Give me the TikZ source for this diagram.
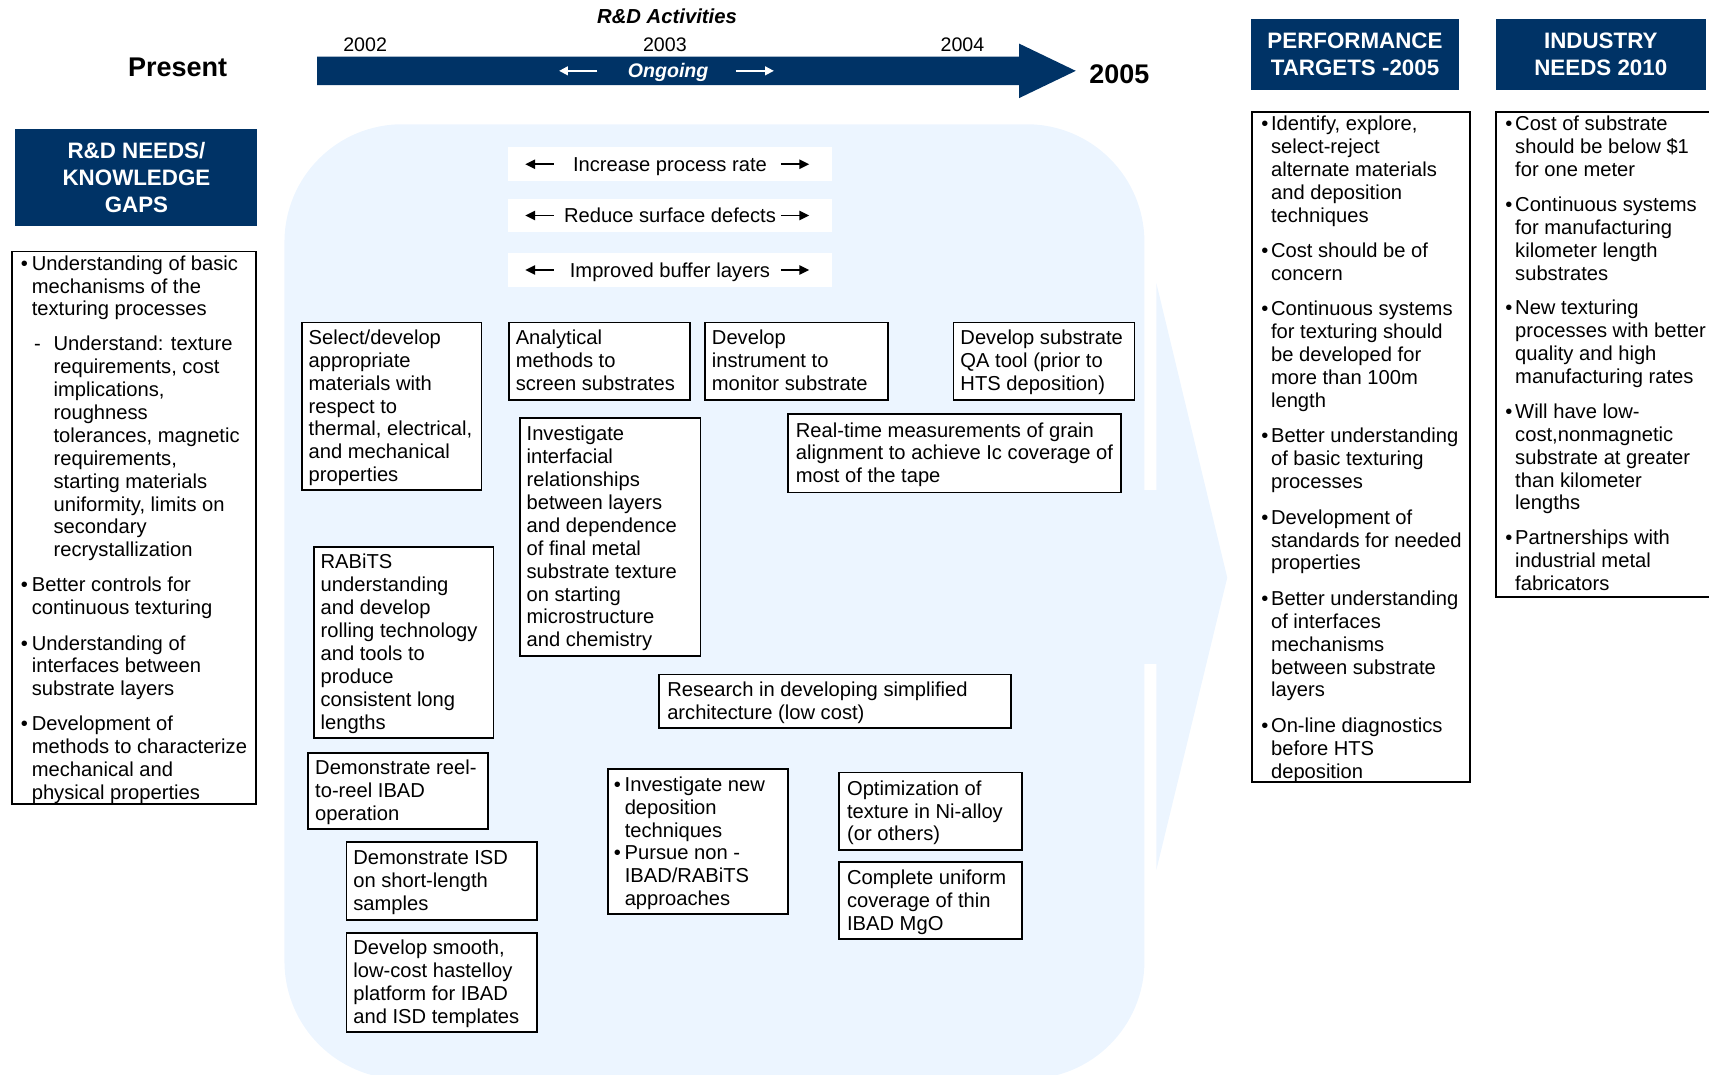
\documentclass[tikz,border=0pt]{standalone}
\usepackage{fontspec}
\setmainfont{Liberation Sans}
\usetikzlibrary{arrows.meta}
\definecolor{navy}{RGB}{0,51,102}
\definecolor{paleblue}{RGB}{236,245,255}
\newcommand\bul[1][10pt]{\makebox[#1][l]{•}}
\newcommand\ind[1][10pt]{\hspace*{#1}}
\tikzset{
  hdr/.style={fill=navy, text=white, font=\fontsize{20.5pt}{24.5pt}\selectfont\bfseries, align=center, inner sep=0pt, anchor=north west},
  frame/.style={draw=black, line width=1.6pt, fill=white, inner sep=0pt, anchor=north west},
  body/.style={font=\fontsize{18.5pt}{21pt}\selectfont, align=left, inner sep=0pt, text=black},
  bandbox/.style={fill=white, inner sep=0pt, anchor=north west, minimum width=297pt, minimum height=31pt,
     font=\fontsize{18.5pt}{21pt}\selectfont, text height=13.25pt, text depth=0pt},
  harrow/.style={line width=1.4pt, -{Triangle[length=9pt,width=8.5pt]}},
  warrow/.style={white, line width=1.6pt, -{Triangle[length=8pt,width=8pt]}},
}
\begin{document}
\begin{tikzpicture}[x=1pt,y=-1pt]
\useasboundingbox (0,0) rectangle (1568,986.3);

% ---------- light blue background shape ----------
\fill[paleblue, rounded corners=108pt] (261,114) rectangle (1050,990);
\fill[paleblue] (1049,450) rectangle (1062,609);
\fill[paleblue] (1061,260) -- (1126,530) -- (1061,798) -- cycle;

% ---------- timeline ----------
\fill[navy] (291,52) -- (935,52) -- (935,40) -- (987,65) -- (935,90) -- (935,78) -- (291,78) -- cycle;
\node[font=\fontsize{18.6pt}{21pt}\selectfont\bfseries\itshape, inner sep=0pt] (rda) at (612,15) {R\&D Activities};
\node[font=\fontsize{18pt}{21pt}\selectfont, inner sep=0pt] (y2002) at (335,41) {2002};
\node[font=\fontsize{18pt}{21pt}\selectfont, inner sep=0pt] (y2003) at (610,41) {2003};
\node[font=\fontsize{18pt}{21pt}\selectfont, inner sep=0pt] (y2004) at (883,41) {2004};
\node[font=\fontsize{24.8pt}{28pt}\selectfont\bfseries, inner sep=0pt] (present) at (163,62) {Present};
\node[font=\fontsize{24.7pt}{28pt}\selectfont\bfseries, inner sep=0pt] (y2005) at (1027,68) {2005};
\node[font=\fontsize{18pt}{21pt}\selectfont\bfseries\itshape, text=white, inner sep=0pt, text height=13pt, text depth=0pt] (ongoing) at (613,65) {Ongoing};
\coordinate (og) at (613,65);
\draw[warrow] ([xshift=-65pt]og) -- ([xshift=-100pt]og);
\draw[warrow] ([xshift=62pt]og) -- ([xshift=97pt]og);

% ---------- headers ----------
\node[hdr, minimum width=222pt, minimum height=89pt] (gaps) at (14,118) {R\&D NEEDS/\\KNOWLEDGE\\GAPS};
\node[hdr, minimum width=190pt, minimum height=65pt] (perf) at (1148,17) {PERFORMANCE\\TARGETS -2005};
\node[hdr, minimum width=193pt, minimum height=65pt] (ind) at (1372,17) {INDUSTRY\\NEEDS 2010};

% ---------- left column ----------
\node[frame, minimum width=224pt, minimum height=507pt] (lbox) at (10,230) {};
\node[body, anchor=north west] (ltext) at (19,233) {\strut\bul Understanding of basic\\
\ind mechanisms of the\\
\ind texturing processes\\[11pt]
\hspace*{12pt}\makebox[18pt][l]{-}Understand: texture\\
\ind[30pt]requirements, cost\\
\ind[30pt]implications,\\
\ind[30pt]roughness\\
\ind[30pt]tolerances, magnetic\\
\ind[30pt]requirements,\\
\ind[30pt]starting materials\\
\ind[30pt]uniformity, limits on\\
\ind[30pt]secondary\\
\ind[30pt]recrystallization\\[11pt]
\bul Better controls for\\
\ind continuous texturing\\[11.5pt]
\bul Understanding of\\
\ind interfaces between\\
\ind substrate layers\\[11pt]
\bul Development of\\
\ind methods to characterize\\
\ind mechanical and\\
\ind physical properties};

% ---------- performance targets ----------
\node[frame, minimum width=200pt, minimum height=615pt] (pbox) at (1148,102) {};
\node[body, anchor=north west] (ptext) at (1157,105) {\strut\bul[9pt]Identify, explore,\\
\ind[9pt]select-reject\\
\ind[9pt]alternate materials\\
\ind[9pt]and deposition\\
\ind[9pt]techniques\\[11.5pt]
\bul[9pt]Cost should be of\\
\ind[9pt]concern\\[11.5pt]
\bul[9pt]Continuous systems\\
\ind[9pt]for texturing should\\
\ind[9pt]be developed for\\
\ind[9pt]more than 100m\\
\ind[9pt]length\\[11.5pt]
\bul[9pt]Better understanding\\
\ind[9pt]of basic texturing\\
\ind[9pt]processes\\[11.5pt]
\bul[9pt]Development of\\
\ind[9pt]standards for needed\\
\ind[9pt]properties\\[11.5pt]
\bul[9pt]Better understanding\\
\ind[9pt]of interfaces\\
\ind[9pt]mechanisms\\
\ind[9pt]between substrate\\
\ind[9pt]layers\\[11.5pt]
\bul[9pt]On-line diagnostics\\
\ind[9pt]before HTS\\
\ind[9pt]deposition};

% ---------- industry needs ----------
\node[frame, minimum width=215pt, minimum height=445pt] (ibox) at (1372,102) {};
\node[body, anchor=north west] (itext) at (1381,105) {\strut\bul[9pt]Cost of substrate\\
\ind[9pt]should be below \$1\\
\ind[9pt]for one meter\\[11pt]
\bul[9pt]Continuous systems\\
\ind[9pt]for manufacturing\\
\ind[9pt]kilometer length\\
\ind[9pt]substrates\\[11pt]
\bul[9pt]New texturing\\
\ind[9pt]processes with better\\
\ind[9pt]quality and high\\
\ind[9pt]manufacturing rates\\[11pt]
\bul[9pt]Will have low-\\
\ind[9pt]cost,nonmagnetic\\
\ind[9pt]substrate at greater\\
\ind[9pt]than kilometer\\
\ind[9pt]lengths\\[11pt]
\bul[9pt]Partnerships with\\
\ind[9pt]industrial metal\\
\ind[9pt]fabricators};

% ---------- bands ----------
\node[bandbox] (band1) at (466,135) {Increase process rate};
\node[bandbox] (band2) at (466,182) {Reduce surface defects};
\node[bandbox] (band3) at (466,232) {Improved buffer layers};
\foreach \b in {band1,band2,band3}{
  \draw[harrow] ([xshift=42pt]\b.west) -- ([xshift=16pt]\b.west);
  \draw[harrow] ([xshift=-47pt]\b.east) -- ([xshift=-21pt]\b.east);
}

% ---------- central boxes ----------
\node[frame, minimum width=165pt, minimum height=154pt] (b1) at (276,295) {};
\node[body, anchor=west] (t1) at ([xshift=7pt,yshift=-2pt]b1.west) {\strut Select/develop\\appropriate\\materials with\\respect to\\thermal, electrical,\\and mechanical\\properties\strut};

\node[frame, minimum width=166pt, minimum height=71pt] (b2) at (466,295) {};
\node[body, anchor=west] (t2) at ([xshift=7pt,yshift=-2pt]b2.west) {\strut Analytical\\methods to\\screen substrates\strut};

\node[frame, minimum width=168pt, minimum height=71pt] (b3) at (646,295) {};
\node[body, anchor=west] (t3) at ([xshift=7pt,yshift=-2pt]b3.west) {\strut Develop\\instrument to\\monitor substrate\strut};

\node[frame, minimum width=166pt, minimum height=71pt] (b4) at (874,295) {};
\node[body, anchor=west] (t4) at ([xshift=7pt,yshift=-2pt]b4.west) {\strut Develop substrate\\QA tool (prior to\\HTS deposition)\strut};

\node[frame, minimum width=166pt, minimum height=218pt] (b5) at (476,383) {};
\node[body, anchor=west] (t5) at ([xshift=7pt,yshift=-2pt]b5.west) {\strut Investigate\\interfacial\\relationships\\between layers\\and dependence\\of final metal\\substrate texture\\on starting\\microstructure\\and chemistry\strut};

\node[frame, minimum width=306pt, minimum height=72pt] (b6) at (722,379) {};
\node[body, anchor=west] (t6) at ([xshift=8pt,yshift=-2pt]b6.west) {\strut Real-time measurements of grain\\alignment to achieve Ic coverage of\\most of the tape\strut};

\node[frame, minimum width=165pt, minimum height=175pt] (b7) at (287,501) {};
\node[body, anchor=west] (t7) at ([xshift=7pt,yshift=-2pt]b7.west) {\strut RABiTS\\understanding\\and develop\\rolling technology\\and tools to\\produce\\consistent long\\lengths\strut};

\node[frame, minimum width=323pt, minimum height=49pt] (b8) at (604,618) {};
\node[body, anchor=west] (t8) at ([xshift=8pt,yshift=-2pt]b8.west) {\strut Research in developing simplified\\architecture (low cost)\strut};

\node[frame, minimum width=165pt, minimum height=70pt] (b9) at (282,690) {};
\node[body, anchor=west] (t9) at ([xshift=7pt,yshift=-2pt]b9.west) {\strut Demonstrate reel-\\to-reel IBAD\\operation\strut};

\node[frame, minimum width=165pt, minimum height=133pt] (b10) at (557,705) {};
\node[body, anchor=west] (t10) at ([xshift=6pt,yshift=-2pt]b10.west) {\strut\bul Investigate new\\\ind deposition\\\ind techniques\\\bul Pursue non -\\\ind IBAD/RABiTS\\\ind approaches\strut};

\node[frame, minimum width=168pt, minimum height=71pt] (b11) at (769,708) {};
\node[body, anchor=west] (t11) at ([xshift=8pt,yshift=-2pt]b11.west) {\strut Optimization of\\texture in Ni-alloy\\(or others)\strut};

\node[frame, minimum width=168pt, minimum height=71pt] (b12) at (769,790) {};
\node[body, anchor=west] (t12) at ([xshift=8pt,yshift=-2pt]b12.west) {\strut Complete uniform\\coverage of thin\\IBAD MgO\strut};

\node[frame, minimum width=175pt, minimum height=71pt] (b13) at (317,772) {};
\node[body, anchor=west] (t13) at ([xshift=7pt,yshift=-2pt]b13.west) {\strut Demonstrate ISD\\on short-length\\samples\strut};

\node[frame, minimum width=175pt, minimum height=91pt] (b14) at (317,855) {};
\node[body, anchor=west] (t14) at ([xshift=7pt,yshift=-2pt]b14.west) {\strut Develop smooth,\\low-cost hastelloy\\platform for IBAD\\and ISD templates\strut};
\end{tikzpicture}
\end{document}
